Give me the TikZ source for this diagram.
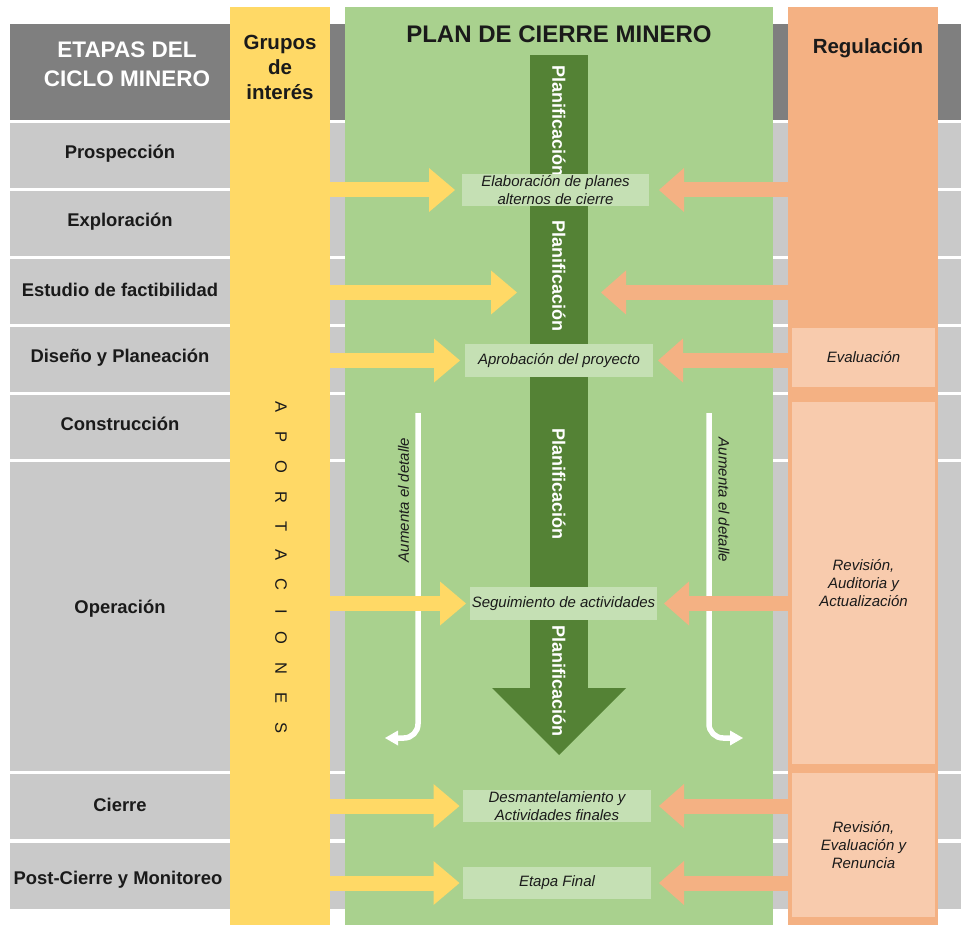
\documentclass[tikz,border=0pt]{standalone}
\usepackage{fontspec}
\setmainfont{Liberation Sans}
\usetikzlibrary{arrows.meta,calc}
\definecolor{hdrgray}{HTML}{7F7F7F}
\definecolor{rowgray}{HTML}{C9C9C9}
\definecolor{ygold}{HTML}{FFD966}
\definecolor{lgreen}{HTML}{A9D18E}
\definecolor{dgreen}{HTML}{548235}
\definecolor{pgreen}{HTML}{C5E0B4}
\definecolor{orng}{HTML}{F4B183}
\definecolor{lorng}{HTML}{F8CBAD}
\definecolor{ink}{HTML}{1A1A1A}

\begin{document}
\begin{tikzpicture}[x=1pt,y=-1pt,
  col/.style={anchor=north west, inner sep=0pt, outer sep=0pt, minimum height=918},
  stage/.style={font=\fontsize{18.4}{22}\selectfont\bfseries, anchor=base, text=ink},
  gbox/.style={fill=pgreen, inner sep=0pt, outer sep=0pt, minimum width=188, minimum height=32,
    align=center, font=\fontsize{15}{17.5}\selectfont\itshape, text=ink},
  obox/.style={fill=lorng, inner sep=0pt, outer sep=0pt, minimum width=143,
    align=center, font=\fontsize{15}{18}\selectfont\itshape, text=ink},
  planlbl/.style={rotate=-90, text=white, font=\fontsize{18}{20}\selectfont\bfseries, inner sep=0pt},
  detail/.style={font=\fontsize{15}{18}\selectfont\itshape, text=ink, inner sep=0pt},
  yarr/.style={draw=ygold, line width=15pt, -{Triangle[length=26pt,width=44pt,line width=0pt]}, shorten >=5pt},
  oarr/.style={draw=orng, line width=15pt, -{Triangle[length=25pt,width=44pt,line width=0pt]}, shorten >=8pt},
  wline/.style={draw=white, line width=5.5pt, rounded corners=14pt, -{Triangle[length=13pt,width=15pt,line width=0pt]}}
]
\fill[white] (0,0) rectangle (961,925);
\useasboundingbox (0,0) rectangle (961,925);

% header band and the stage rows behind the columns
\fill[hdrgray] (10,24) rectangle (961,120);
\foreach \a/\b in {123/188,191/256,259/324,327/392,395/459,462/771,774/839,843/909}
  \fill[rowgray] (10,\a) rectangle (961,\b);

% the three vertical columns
\node[col, fill=ygold, minimum width=100] (ycol) at (230,7) {};
\node[col, fill=lgreen, minimum width=428] (gcol) at (345,7) {};
\node[col, fill=orng, minimum width=150] (ocol) at (788,7) {};

% headings
\node[font=\fontsize{22.5}{29}\selectfont\bfseries, text=white, align=center] (etapas) at (127,64.5) {ETAPAS DEL\\CICLO MINERO};
\node[font=\fontsize{20.5}{25}\selectfont\bfseries, text=ink, align=center] (grupos) at (280,67.5) {Grupos\\de\\interés};
\node[font=\fontsize{24}{28}\selectfont\bfseries, text=ink, anchor=base] (plan) at (559,43) {PLAN DE CIERRE MINERO};
\node[font=\fontsize{20.5}{24}\selectfont\bfseries, text=ink, anchor=base] (regul) at (868,54) {Regulación};

% stages of the mining cycle
\node[stage] (s1) at (120,159) {Prospección};
\node[stage] (s2) at (120,227) {Exploración};
\node[stage] (s3) at (120,297) {Estudio de factibilidad};
\node[stage] (s4) at (120,362) {Diseño y Planeación};
\node[stage] (s5) at (120,430) {Construcción};
\node[stage] (s6) at (120,613) {Operación};
\node[stage] (s7) at (120,811) {Cierre};
\node[stage] (s8) at (118,884) {Post-Cierre y Monitoreo};

% spaced vertical word in the stakeholder column
\node[rotate=-90, font=\fontsize{16.5}{18}\selectfont, text=ink, inner sep=0pt] (aport) at (281,567.5)
  {A\kern18.2pt P\kern18.2pt O\kern18.2pt R\kern18.2pt T\kern18.2pt A\kern18.2pt C\kern18.2pt I\kern18.2pt O\kern18.2pt N\kern18.2pt E\kern18.2pt S};

% regulation boxes
\node[obox, minimum height=59] (ev) at (863.5,357.5) {Evaluación};
\node[obox, minimum height=362] (rev) at (863.5,583) {Revisión,\\Auditoria y\\Actualización};
\node[obox, minimum height=144] (ren) at (863.5,845) {Revisión,\\Evaluación y\\Renuncia};

% central planning arrow
\node[fill=dgreen, inner sep=0pt, outer sep=0pt, minimum width=58, minimum height=633, anchor=north] (bar) at (559,55) {};
\fill[dgreen] ($(bar.south)+(-67,0)$) -- ($(bar.south)+(67,0)$) -- ($(bar.south)+(0,67)$) -- cycle;
\node[planlbl] (pl1) at (559,121) {Planificación};
\node[planlbl] (pl2) at (559,276) {Planificación};
\node[planlbl] (pl3) at (559,484) {Planificación};
\node[planlbl] (pl4) at (559,681) {Planificación};

% plan milestones
\node[gbox, minimum width=187] (eb) at (555.5,190) {Elaboración de planes\\alternos de cierre};
\node[gbox, minimum height=33] (ap) at (559,360.5) {Aprobación del proyecto};
\node[gbox, minimum width=187, minimum height=33] (sg) at (563.5,603.5) {Seguimiento de actividades};
\node[gbox] (dm) at (557,806) {Desmantelamiento y\\Actividades finales};
\node[gbox] (ef) at (557,883) {Etapa Final};

% increasing detail arrows
\coordinate (lstart) at (418,413);
\coordinate (lend) at (385,738);
\coordinate (rstart) at (709,413);
\coordinate (rend) at (743,738);
\draw[wline] (lstart) |- (lend);
\draw[wline] (rstart) |- (rend);
\node[detail, rotate=90] (dl) at (403.5,500) {Aumenta el detalle};
\node[detail, rotate=-90] (dr) at (724,500) {Aumenta el detalle};

% inputs from stakeholders
\coordinate (r3) at (559,292.5);
\draw[yarr, shorten >=7pt] (ycol.east |- eb.west) -- (eb.west);
\draw[yarr, shorten >=13pt] (ycol.east |- r3) -- (bar.west |- r3);
\draw[yarr] (ycol.east |- ap.west) -- (ap.west);
\draw[yarr, shorten >=4pt] (ycol.east |- sg.west) -- (sg.west);
\draw[yarr, shorten >=3.5pt] (ycol.east |- dm.west) -- (dm.west);
\draw[yarr, shorten >=3.5pt] (ycol.east |- ef.west) -- (ef.west);

% inputs from regulation
\draw[oarr, shorten >=10pt] (ocol.west |- eb.east) -- (eb.east);
\draw[oarr, shorten >=13pt] (ocol.west |- r3) -- (bar.east |- r3);
\draw[oarr, shorten >=5pt] (ocol.west |- ap.east) -- (ap.east);
\draw[oarr, shorten >=7pt] (ocol.west |- sg.east) -- (sg.east);
\draw[oarr] (ocol.west |- dm.east) -- (dm.east);
\draw[oarr] (ocol.west |- ef.east) -- (ef.east);
\end{tikzpicture}
\end{document}
